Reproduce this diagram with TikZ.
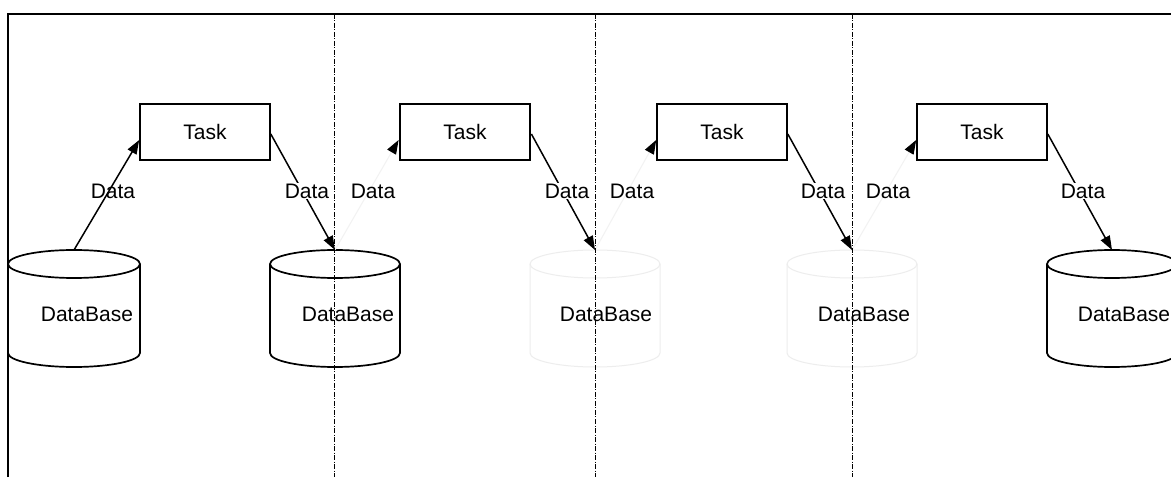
\documentclass[tikz,border=0pt]{standalone}
\usepackage{fontspec}
\setmainfont{Liberation Sans}
\usetikzlibrary{arrows.meta}
\newcommand\mycyl[4]{%
  \draw[#1] (#2,213) -- (#2,124) arc[start angle=180,end angle=360,x radius=#4,y radius=14pt] -- (#3,213) arc[start angle=0,end angle=180,x radius=#4,y radius=14pt] -- cycle;
  \draw[#1] (#2,213) arc[start angle=180,end angle=360,x radius=#4,y radius=14pt];
}
\begin{document}
\begin{tikzpicture}[x=1pt,y=1pt,
  frame/.style={line width=2.2pt},
  divider/.style={line width=1pt, dash pattern=on 5pt off 1.5pt on 1pt off 1.5pt},
  taskbox/.style={draw, line width=1.6pt, minimum width=130pt, minimum height=56pt, font=\fontsize{21}{25}\selectfont, inner sep=0pt},
  lbl/.style={font=\fontsize{21}{25}\selectfont, inner sep=1pt},
  cutlbl/.style={lbl, fill=white},
  dbtext/.style={font=\fontsize{21}{25}\selectfont, inner sep=0pt},
  flow/.style={line width=1.5pt, -{Triangle[length=14pt,width=10pt]}},
  faded/.style={line width=1pt, draw=black!5, -{Triangle[length=14pt,width=10pt,black]}},
  cyl/.style={line width=1.7pt},
  fadedcyl/.style={line width=1pt, draw=black!7},
  ]
\clip (0,0) rectangle (1171,477);
\fill[white] (0,0) rectangle (1171,477);

% cylinders
\mycyl{cyl}{8}{140}{66pt}
\mycyl{cyl}{270}{400}{65pt}
\mycyl{fadedcyl}{530}{660}{65pt}
\mycyl{fadedcyl}{787}{917}{65pt}
\mycyl{cyl}{1047}{1177}{65pt}

\coordinate (d1) at (74,227);
\coordinate (d2) at (335,227);
\coordinate (d3) at (595,227);
\coordinate (d4) at (852,227);
\coordinate (d5) at (1112,227);

\node[dbtext] (db1) at (87,163) {DataBase};
\node[dbtext] (db2) at (348,163) {DataBase};
\node[dbtext] (db3) at (606,163) {DataBase};
\node[dbtext] (db4) at (864,163) {DataBase};
\node[dbtext] (db5) at (1124,163) {DataBase};

% tasks
\node[taskbox] (t1) at (205,345) {Task};
\node[taskbox, line width=2.8pt] (t2) at (465,345) {Task};
\node[taskbox] (t3) at (722,345) {Task};
\node[taskbox] (t4) at (982,345) {Task};

% incoming arrows
\draw[flow] (d1) -- ([yshift=-8pt]t1.west);
\draw[faded] (d2) -- ([yshift=-8pt]t2.west);
\draw[faded] (d3) -- ([yshift=-8pt]t3.west);
\draw[faded] (d4) -- ([yshift=-8pt]t4.west);

% outgoing arrows
\draw[flow] ([yshift=-2pt]t1.east) -- (d2);
\draw[flow] ([yshift=-2pt]t2.east) -- (d3);
\draw[flow] ([yshift=-2pt]t3.east) -- (d4);
\draw[flow] ([yshift=-2pt]t4.east) -- (d5);

% labels
\node[lbl] (l1) at (113,286) {Data};
\node[lbl] (l2) at (373,286) {Data};
\node[lbl] (l3) at (632,286) {Data};
\node[lbl] (l4) at (888,286) {Data};
\node[cutlbl] (r1) at (307,286) {Data};
\node[cutlbl] (r2) at (567,286) {Data};
\node[cutlbl] (r3) at (823,286) {Data};
\node[cutlbl] (r4) at (1083,286) {Data};

% frame and dividers
\draw[frame] (8,0) -- (8,463) -- (1171,463);
\draw[divider] (334,463) -- (334,0);
\draw[divider] (595,463) -- (595,0);
\draw[divider] (852,463) -- (852,0);
\end{tikzpicture}
\end{document}
